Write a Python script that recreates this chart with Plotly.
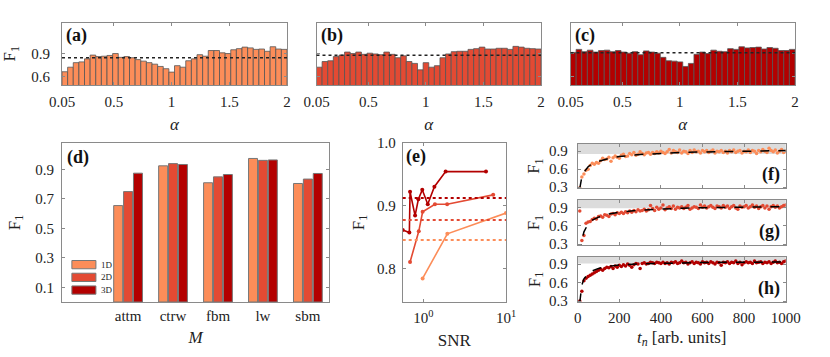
import numpy as np
import plotly.graph_objects as go

# ---- data -------------------------------------------------------------
alpha_lo, alpha_hi, n_bins = 0.05, 2.0, 40

f1_alpha_1d = [0.66, 0.72, 0.78, 0.79, 0.83, 0.88, 0.86, 0.865, 0.875, 0.90,
               0.85, 0.86, 0.845, 0.82, 0.80, 0.78, 0.76, 0.73, 0.70, 0.655,
               0.74, 0.72, 0.805, 0.83, 0.885, 0.865, 0.94, 0.94, 0.91, 0.90,
               0.95, 0.965, 0.985, 0.975, 0.955, 0.96, 0.93, 0.99, 0.96, 0.955]
f1_alpha_2d = [0.72, 0.795, 0.805, 0.86, 0.88, 0.92, 0.90, 0.92, 0.89, 0.905,
               0.895, 0.885, 0.92, 0.89, 0.845, 0.87, 0.795, 0.77, 0.685, 0.78,
               0.72, 0.74, 0.845, 0.895, 0.925, 0.93, 0.93, 0.955, 0.965, 0.985,
               0.96, 0.96, 0.97, 0.97, 0.955, 0.995, 0.985, 0.97, 0.965, 0.96]
f1_alpha_3d = [0.915, 0.955, 0.925, 0.945, 0.92, 0.94, 0.945, 0.925, 0.94, 0.92,
               0.905, 0.925, 0.885, 0.935, 0.92, 0.905, 0.85, 0.805, 0.80, 0.79,
               0.73, 0.77, 0.89, 0.92, 0.90, 0.945, 0.93, 0.925, 0.965, 0.955,
               0.99, 0.975, 0.98, 0.985, 0.96, 0.98, 0.97, 0.94, 0.94, 0.955]
f1_mean = [0.845, 0.877, 0.912]

models = ["attm", "ctrw", "fbm", "lw", "sbm"]
f1_model_1d = [0.655, 0.925, 0.81, 0.975, 0.805]
f1_model_2d = [0.75, 0.94, 0.85, 0.962, 0.835]
f1_model_3d = [0.875, 0.934, 0.866, 0.965, 0.873]
dims = ["1D", "2D", "3D"]

snr_1d = [0.98, 1.95, 10.0]
f1_snr_1d = [0.784, 0.855, 0.888]
snr_2d = [0.69, 0.88, 0.98, 1.38, 1.94, 7.0]
f1_snr_2d = [0.81, 0.859, 0.89, 0.902, 0.902, 0.917]
snr_3d = [0.563, 0.677, 0.69, 0.794, 0.87, 0.97, 1.13, 1.36, 1.86, 5.73]
f1_snr_3d = [0.861, 0.857, 0.922, 0.884, 0.91, 0.925, 0.902, 0.93, 0.954, 0.954]

t_n = list(range(10, 1010, 10))
f1_t_1d = [0.29, 0.47, 0.52, 0.58, 0.60, 0.66, 0.70, 0.68, 0.71, 0.70,
           0.74, 0.78, 0.76, 0.77, 0.80, 0.73, 0.79, 0.82, 0.80, 0.78,
           0.83, 0.85, 0.81, 0.82, 0.86, 0.84, 0.88, 0.83, 0.85, 0.89,
           0.86, 0.84, 0.87, 0.88, 0.85, 0.88, 0.86, 0.89, 0.87, 0.90,
           0.88, 0.86, 0.89, 0.93, 0.87, 0.91, 0.89, 0.88, 0.92, 0.87,
           0.90, 0.89, 0.86, 0.91, 0.88, 0.92, 0.89, 0.90, 0.87, 0.91,
           0.89, 0.91, 0.88, 0.90, 0.92, 0.87, 0.90, 0.89, 0.91, 0.88,
           0.90, 0.87, 0.91, 0.89, 0.92, 0.88, 0.90, 0.91, 0.87, 0.90,
           0.89, 0.92, 0.88, 0.91, 0.90, 0.86, 0.91, 0.89, 0.93, 0.90,
           0.88, 0.95, 0.91, 0.89, 0.92, 0.87, 0.90, 0.93, 0.88, 0.90]
f1_t_2d = [0.84, 0.36, 0.44, 0.64, 0.66, 0.67, 0.70, 0.72, 0.71, 0.75,
           0.76, 0.74, 0.78, 0.77, 0.75, 0.79, 0.80, 0.78, 0.81, 0.80,
           0.82, 0.80, 0.83, 0.81, 0.84, 0.82, 0.85, 0.83, 0.86, 0.84,
           0.85, 0.87, 0.84, 0.86, 0.93, 0.88, 0.85, 0.90, 0.87, 0.89,
           0.94, 0.86, 0.89, 0.91, 0.88, 0.92, 0.87, 0.90, 0.89, 0.91,
           0.88, 0.90, 0.93, 0.87, 0.89, 0.91, 0.90, 0.88, 0.94, 0.90,
           0.92, 0.89, 0.91, 0.93, 0.90, 0.88, 0.92, 0.91, 0.89, 0.93,
           0.90, 0.92, 0.88, 0.91, 0.93, 0.89, 0.87, 0.92, 0.90, 0.91,
           0.93, 0.89, 0.91, 0.94, 0.90, 0.92, 0.88, 0.91, 0.93, 0.89,
           0.92, 0.87, 0.91, 0.93, 0.90, 0.92, 0.89, 0.91, 0.93, 0.94]
f1_t_3d = [0.30, 0.46, 0.63, 0.67, 0.70, 0.72, 0.74, 0.76, 0.78, 0.80,
           0.82, 0.80, 0.83, 0.85, 0.84, 0.86, 0.83, 0.87, 0.85, 0.88,
           0.86, 0.89, 0.87, 0.90, 0.88, 0.85, 0.89, 0.91, 0.90, 0.83,
           0.91, 0.92, 0.90, 0.91, 0.93, 0.92, 0.91, 0.93, 0.92, 0.91,
           0.93, 0.91, 0.92, 0.90, 0.93, 0.92, 0.94, 0.91, 0.92, 0.95,
           0.92, 0.93, 0.90, 0.92, 0.94, 0.91, 0.93, 0.92, 0.90, 0.94,
           0.92, 0.93, 0.91, 0.94, 0.92, 0.90, 0.93, 0.92, 0.88, 0.93,
           0.92, 0.94, 0.91, 0.93, 0.92, 0.95, 0.91, 0.93, 0.89, 0.92,
           0.94, 0.92, 0.93, 0.91, 0.95, 0.92, 0.93, 0.94, 0.91, 0.93,
           0.92, 0.94, 0.91, 0.93, 0.95, 0.92, 0.93, 0.91, 0.94, 0.95]
fit_t = [10, 15, 20, 30, 40, 50, 70, 100, 150, 200, 300, 400, 500, 600, 700, 800, 900, 1000]
fit_1d = [0.28, 0.40, 0.47, 0.55, 0.60, 0.64, 0.69, 0.73, 0.78, 0.81, 0.845, 0.865, 0.878, 0.887, 0.894, 0.90, 0.905, 0.91]
fit_2d = [0.15, 0.26, 0.36, 0.50, 0.58, 0.63, 0.69, 0.74, 0.79, 0.82, 0.855, 0.873, 0.885, 0.893, 0.90, 0.905, 0.909, 0.913]
fit_3d = [0.28, 0.45, 0.56, 0.66, 0.71, 0.745, 0.79, 0.83, 0.865, 0.885, 0.905, 0.915, 0.921, 0.925, 0.928, 0.93, 0.932, 0.934]
band_lo = [0.855, 0.885, 0.91]

# ---- style ------------------------------------------------------------
colors = ["#fc8d59", "#e34a33", "#b30000"]
FONT = "Liberation Serif, DejaVu Serif, serif"
W, H = 830, 357
GRAY = "#8a8a8a"
INK = "#222"


def dom_x(a, b):
    return [a / W, b / W]


def dom_y(top, bottom):
    return [1 - bottom / H, 1 - top / H]


def axis(**kw):
    d = dict(showline=True, mirror="ticks", linecolor=GRAY, linewidth=1,
             ticks="inside", tickcolor=GRAY, ticklen=3, showgrid=False,
             zeroline=False, automargin=False,
             tickfont=dict(family=FONT, size=15, color=INK))
    d.update(kw)
    return d


def ttl(text, standoff):
    return dict(text=text, standoff=standoff, font=dict(family=FONT, size=17, color=INK))


fig = go.Figure()

# ---- (a)-(c) bars over alpha ------------------------------------------
edges = np.linspace(alpha_lo, alpha_hi, n_bins + 1)
centers = (edges[:-1] + edges[1:]) / 2
bw = edges[1] - edges[0]
for i, vals in enumerate([f1_alpha_1d, f1_alpha_2d, f1_alpha_3d]):
    ax = "" if i == 0 else str(i + 1)
    fig.add_trace(go.Bar(x=centers, y=vals, width=bw, marker_color=colors[i],
                         marker_line=dict(color="#555", width=0.8),
                         xaxis="x" + ax, yaxis="y" + ax, showlegend=False))
    fig.add_shape(type="line", xref="x%s domain" % ax, yref="y" + ax,
                  x0=0, x1=1, y0=f1_mean[i], y1=f1_mean[i],
                  line=dict(color=INK, width=1.5, dash="dot"))

# ---- (d) bars per model -----------------------------------------------
xpos = list(range(1, len(models) + 1))
offsets = [-0.32, -0.1, 0.12]
for i, vals in enumerate([f1_model_1d, f1_model_2d, f1_model_3d]):
    fig.add_trace(go.Bar(x=xpos, y=vals, width=0.2, offset=offsets[i],
                         marker_color=colors[i], name=dims[i],
                         marker_line=dict(color="#777", width=1),
                         xaxis="x4", yaxis="y4", showlegend=False))
    # hand-drawn legend (matplotlib style) in the lower left of (d)
    ly = 0.235 - i * 0.08
    fig.add_shape(type="rect", xref="x4 domain", yref="y4 domain",
                  x0=0.037, x1=0.127, y0=ly - 0.026, y1=ly + 0.026,
                  fillcolor=colors[i], line=dict(color="#777", width=1))
    fig.add_annotation(text=dims[i], xref="x4 domain", yref="y4 domain",
                       x=0.14, y=ly, xanchor="left", yanchor="middle", showarrow=False,
                       font=dict(family=FONT, size=9, color=INK))

# ---- (e) SNR ----------------------------------------------------------
for i, (sx, sy) in enumerate([(snr_1d, f1_snr_1d), (snr_2d, f1_snr_2d), (snr_3d, f1_snr_3d)]):
    fig.add_trace(go.Scatter(x=sx, y=sy, mode="lines+markers",
                             line=dict(color=colors[i], width=1.6),
                             marker=dict(size=4, color=colors[i]),
                             xaxis="x5", yaxis="y5", showlegend=False))
    fig.add_shape(type="line", xref="x5 domain", yref="y5", x0=0, x1=1,
                  y0=f1_mean[i], y1=f1_mean[i],
                  line=dict(color=colors[i], width=2, dash="dot"))

# ---- (f)-(h) F1 vs t_n ------------------------------------------------
for i, (vals, fit) in enumerate([(f1_t_1d, fit_1d), (f1_t_2d, fit_2d), (f1_t_3d, fit_3d)]):
    ax = str(6 + i)
    fig.add_shape(type="rect", xref="x%s domain" % ax, yref="y" + ax,
                  x0=0, x1=1, y0=band_lo[i], y1=1.02, fillcolor="#dcdcdc",
                  line_width=0, layer="below")
    fig.add_trace(go.Scatter(x=t_n, y=vals, mode="markers",
                             marker=dict(size=3.5, color=colors[i]),
                             xaxis="x" + ax, yaxis="y" + ax, showlegend=False))
    fig.add_trace(go.Scatter(x=fit_t, y=fit, mode="lines",
                             line=dict(color="black", width=1.5, dash="dash"),
                             xaxis="x" + ax, yaxis="y" + ax, showlegend=False))

# ---- axes -------------------------------------------------------------
F1 = "F<sub>1</sub>"
a_ticks = dict(tickvals=[0.05, 0.5, 1, 1.5, 2], ticktext=["0.05", "0.5", "1", "1.5", "2"])
lay = {}
for i, (x0, x1) in enumerate([(62, 287), (316.5, 541), (570.5, 795)]):
    sfx = "" if i == 0 else str(i + 1)
    lay["xaxis" + sfx] = axis(domain=dom_x(x0, x1), range=[alpha_lo, alpha_hi],
                              anchor="y" + sfx, title=ttl("<i>α</i>", 9),
                              ticklabelstandoff=3, **a_ticks)
    ya = axis(domain=dom_y(22.5, 85), range=[0.485, 1.31], anchor="x" + sfx,
              tickvals=[0.6, 0.9], ticktext=["0.6", "0.9"], showticklabels=(i == 0))
    if i == 0:
        ya["title"] = ttl(F1, 12)
        ya["ticklabelstandoff"] = 8
    lay["yaxis" + sfx] = ya

lay["xaxis4"] = axis(domain=dom_x(62, 329), range=[-0.47, 5.47], anchor="y4",
                     tickvals=xpos, ticktext=models, ticks="", ticklabelstandoff=0,
                     title=ttl("<i>M</i>", 8))
lay["yaxis4"] = axis(domain=dom_y(143, 302), range=[0, 1.08], anchor="x4",
                     tickvals=[0.1, 0.3, 0.5, 0.7, 0.9], ticklabelstandoff=4,
                     title=ttl(F1, 10))

lay["xaxis5"] = axis(domain=dom_x(402.7, 506), type="log", range=[-0.25, 1], anchor="y5",
                     tickvals=[1, 10], ticktext=["10<sup>0</sup>", "10<sup>1</sup>"],
                     ticklabelstandoff=2, title=ttl("SNR", 8))
lay["yaxis5"] = axis(domain=dom_y(142.7, 302.3), range=[0.746, 1.0], anchor="x5",
                     tickvals=[0.8, 0.9, 1.0], ticktext=["0.8", "0.9", "1.0"],
                     ticklabelstandoff=3, title=ttl(F1, 8))

for i, (top, bot) in enumerate([(144, 188.3), (200, 245.3), (256.7, 302.3)]):
    sfx = str(6 + i)
    last = i == 2
    xa = axis(domain=dom_x(577.7, 785.7), range=[0, 1000], anchor="y" + sfx,
              tickvals=[0, 200, 400, 600, 800, 1000], showticklabels=last)
    if last:
        xa["title"] = ttl("<i>t<sub>n</sub></i> [arb. units]", 5)
        xa["ticklabelstandoff"] = 2
    lay["xaxis" + sfx] = xa
    lay["yaxis" + sfx] = axis(domain=dom_y(top, bot), range=[0.28, 1.02], anchor="x" + sfx,
                              tickvals=[0.3, 0.6, 0.9], ticktext=["0.3", "0.6", "0.9"],
                              ticklabelstandoff=6, title=ttl(F1, 4))

# panel letters
ann = list(fig.layout.annotations)
letters = [("(a)", "x", "y"), ("(b)", "x2", "y2"), ("(c)", "x3", "y3"),
           ("(d)", "x4", "y4"), ("(e)", "x5", "y5")]
for txt, xa, ya in letters:
    ann.append(dict(text="<b>%s</b>" % txt, xref=xa + " domain", yref=ya + " domain",
                    x=0.01, y=0.99, xanchor="left", yanchor="top", showarrow=False,
                    font=dict(family=FONT, size=18, color="#111")))
for txt, xa, ya in [("(f)", "x6", "y6"), ("(g)", "x7", "y7"), ("(h)", "x8", "y8")]:
    ann.append(dict(text="<b>%s</b>" % txt, xref=xa + " domain", yref=ya + " domain",
                    x=0.98, y=0.02, xanchor="right", yanchor="bottom", showarrow=False,
                    font=dict(family=FONT, size=18, color="#111")))

fig.update_layout(width=W, height=H, margin=dict(l=0, r=0, t=0, b=0),
                  plot_bgcolor="white", paper_bgcolor="white", barmode="overlay",
                  font=dict(family=FONT, size=14, color=INK),
                  annotations=ann, showlegend=False, **lay)

# page body margin would push the figure 8px off its place
fig.write_html("out.html", config={"displayModeBar": False},
               post_script="document.body.style.margin='0';")
